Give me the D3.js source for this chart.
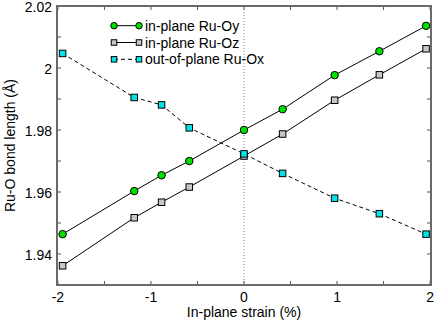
<!DOCTYPE html>
<html>
<head>
<meta charset="utf-8">
<script src="https://cdn.jsdelivr.net/npm/d3@7"></script>
<style>
  body { margin: 0; background: #fff; }
  text { font-family: "Liberation Sans", Arial, sans-serif; fill: #000; }
</style>
</head>
<body>
<svg id="chart" width="436" height="322"></svg>
<script>
const strain = [-1.95, -1.18, -0.886, -0.588, 0, 0.415, 0.974, 1.455, 1.957];
const ruOy = [1.9464, 1.9603, 1.9654, 1.9700, 1.9800, 1.9867, 1.9977, 2.0054, 2.0136];
const ruOz = [1.9362, 1.9517, 1.9567, 1.9616, 1.9716, 1.9787, 1.9896, 1.9978, 2.0062];
const ruOx = [2.0047, 1.9905, 1.9881, 1.9807, 1.9723, 1.9660, 1.9580, 1.9530, 1.9464];
const xTicks = [-2, -1, 0, 1, 2];
const yTicks = [1.94, 1.96, 1.98, 2, 2.02];
const seriesNames = ['in-plane Ru-Oy', 'in-plane Ru-Oz', 'out-of-plane Ru-Ox'];

const svg = d3.select('#chart');
const mLeft = 57, mRight = 431, mTop = 6, mBottom = 285;

const x = d3.scaleLinear().domain([-2.01, 2.01]).range([mLeft, mRight]);
const y = d3.scaleLinear().domain([1.93, 2.02]).range([mBottom, mTop]);

// dotted zero line
svg.append('line')
    .attr('x1', x(0)).attr('x2', x(0))
    .attr('y1', mTop).attr('y2', mBottom)
    .attr('stroke', '#888')
    .attr('stroke-dasharray', '1,2');

// ticks on all four sides, pointing inward
const frame = svg.append('g');
const tickLen = 4;
d3.range(-2, 2.01, 0.5).forEach((v) => {
    frame.append('line').attr('x1', x(v)).attr('x2', x(v))
        .attr('y1', mBottom).attr('y2', mBottom - tickLen).attr('stroke', '#555');
    frame.append('line').attr('x1', x(v)).attr('x2', x(v))
        .attr('y1', mTop).attr('y2', mTop + tickLen).attr('stroke', '#555');
});
d3.range(1.93, 2.0201, 0.01).forEach((v) => {
    frame.append('line').attr('x1', mLeft).attr('x2', mLeft + tickLen)
        .attr('y1', y(v)).attr('y2', y(v)).attr('stroke', '#555');
    frame.append('line').attr('x1', mRight).attr('x2', mRight - tickLen)
        .attr('y1', y(v)).attr('y2', y(v)).attr('stroke', '#555');
});

frame.append('rect')
    .attr('x', mLeft).attr('y', mTop)
    .attr('width', mRight - mLeft).attr('height', mBottom - mTop)
    .attr('fill', 'none')
    .attr('stroke', '#6a6a6a')
    .attr('stroke-width', 2);

// tick labels
svg.selectAll('.xlab').data(xTicks).enter().append('text')
    .attr('x', (d) => x(d)).attr('y', 301.5)
    .attr('text-anchor', 'middle').attr('font-size', 14)
    .text((d) => d);
svg.selectAll('.ylab').data(yTicks).enter().append('text')
    .attr('x', mLeft - 5).attr('y', (d) => y(d) + 5.5)
    .attr('text-anchor', 'end').attr('font-size', 14)
    .text((d) => d);

svg.append('text')
    .attr('x', x(0)).attr('y', 317)
    .attr('text-anchor', 'middle').attr('font-size', 14)
    .text('In-plane strain (%)');
svg.append('text')
    .attr('transform', `translate(15,${(mTop + mBottom) / 2})rotate(-90)`)
    .attr('text-anchor', 'middle').attr('font-size', 14)
    .text('Ru-O bond length (Å)');

// series
const series = [
    { vals: ruOy, shape: 'circle', fill: '#00e000', dash: null },
    { vals: ruOz, shape: 'square', fill: '#c8c8c8', dash: null },
    { vals: ruOx, shape: 'square', fill: '#00e5e5', dash: '4,3' }
];

const line = d3.line().x((d) => x(d[0])).y((d) => y(d[1]));

function drawMarker(g, shape, fill, cx, cy, size) {
    if (shape === 'circle') {
        g.append('circle').attr('cx', cx).attr('cy', cy).attr('r', size / 2)
            .attr('fill', fill).attr('stroke', '#000').attr('stroke-width', 1);
    } else {
        g.append('rect').attr('x', cx - size / 2 + 0.5).attr('y', cy - size / 2 + 0.5)
            .attr('width', size - 1).attr('height', size - 1)
            .attr('fill', fill).attr('stroke', '#000').attr('stroke-width', 1);
    }
}

series.forEach((s) => {
    const pts = strain.map((v, i) => [v, s.vals[i]]);
    svg.append('path').datum(pts)
        .attr('d', line)
        .attr('fill', 'none')
        .attr('stroke', '#000')
        .attr('stroke-width', 1)
        .attr('stroke-dasharray', s.dash);
});
series.forEach((s) => {
    const g = svg.append('g');
    strain.forEach((v, i) => drawMarker(g, s.shape, s.fill, x(v), y(s.vals[i]), 7.5));
});

// legend
const legend = svg.append('g');
series.forEach((s, i) => {
    const ly = 25.7 + i * 16.8;
    legend.append('line').attr('x1', 114).attr('x2', 139)
        .attr('y1', ly).attr('y2', ly)
        .attr('stroke', '#000').attr('stroke-dasharray', s.dash);
    drawMarker(legend, s.shape, s.fill, 114, ly, 6.5);
    drawMarker(legend, s.shape, s.fill, 139, ly, 6.5);
    legend.append('text').attr('x', 145).attr('y', ly + 5)
        .attr('font-size', 14).text(seriesNames[i]);
});
</script>
</body>
</html>
